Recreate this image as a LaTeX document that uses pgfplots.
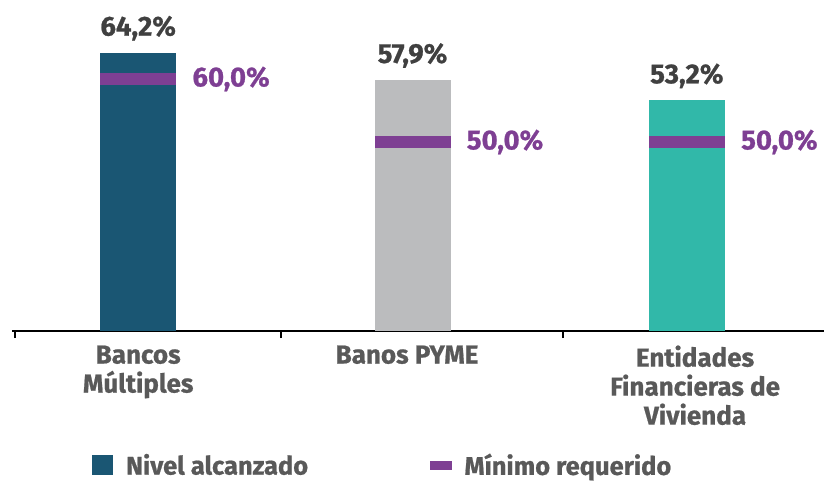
\documentclass[border=0pt]{standalone}
\usepackage{pgfplots}
\pgfplotsset{compat=1.18}
\usepackage{fontspec}
\setmainfont{Fira Sans}[FakeBold=0.8]

\definecolor{barA}{HTML}{1A5673}
\definecolor{barB}{HTML}{BBBCBE}
\definecolor{barC}{HTML}{31B8A9}
\definecolor{mpurple}{HTML}{7E3F93}
\definecolor{valgray}{HTML}{404040}
\definecolor{labgray}{HTML}{595959}

\begin{document}
\begin{tikzpicture}
\path[use as bounding box] (0,0) rectangle (824pt,482pt);

% bars: nivel alcanzado
\begin{axis}[
    at={(12pt,151pt)}, anchor=south west,
    width=812pt, height=303.5pt, scale only axis,
    xmin=-0.46, xmax=2.50, ymin=0, ymax=70,
    clip=false,
    axis x line*=bottom, axis y line=none,
    x axis line style={line width=2.5pt, black, -},
    xtick={-0.45,0.52,1.55}, xticklabels={},
    major tick length=7pt, tick align=outside,
    xtick style={line width=2pt, black},
    ytick=\empty,
    extra x ticks={0,0.98,2.03},
    extra x tick labels={Bancos\\Múltiples, Banos PYME, Entidades\\Financieras de\\Vivienda},
    extra x tick style={major tick length=0pt},
    xticklabel style={font=\fontsize{26}{29}\selectfont\bfseries, text=labgray, align=center, yshift=-11pt},
    ybar, bar width=76pt,
    nodes near coords={\pgfmathprintnumber{\pgfplotspointmeta}\%},
    every node near coord/.append style={font=\fontsize{27.5}{30}\selectfont\bfseries, text=valgray, anchor=base, yshift=17pt},
    /pgf/number format/fixed,
    /pgf/number format/fixed zerofill,
    /pgf/number format/precision=1,
    /pgf/number format/use comma,
    /pgf/number format/assume math mode=true,
    legend style={draw=none, fill=none, inner sep=0pt,
        at={(axis description cs:0.0985,-0.4415)}, anchor=west,
        font=\fontsize{25.5}{27}\selectfont\bfseries, text=labgray,
        /tikz/every odd column/.append style={column sep=11pt},
        /tikz/every even column/.append style={column sep=120pt}},
    legend columns=2,
    legend cell align=left,
]
\addplot[fill=barA, draw=none, bar shift=0pt,
    legend image code/.code={\fill[barA] (0pt,-10pt) rectangle (21pt,10pt);}]
    coordinates {(0,64.2)};
\addlegendentry{Nivel alcanzado}
\addlegendimage{legend image code/.code={\fill[mpurple] (0pt,-4pt) rectangle (21pt,4pt);}}
\addlegendentry{Mínimo requerido}
\addplot[fill=barB, draw=none, bar shift=0pt, forget plot] coordinates {(1,57.9)};
\addplot[fill=barC, draw=none, bar shift=0pt, forget plot] coordinates {(2,53.2)};
\end{axis}

% markers: minimo requerido
\begin{axis}[
    at={(12pt,151pt)}, anchor=south west,
    width=812pt, height=303.5pt, scale only axis,
    xmin=-0.46, xmax=2.50, ymin=20, ymax=68.17,
    hide axis, clip=false,
    /pgf/number format/fixed,
    /pgf/number format/fixed zerofill,
    /pgf/number format/precision=1,
    /pgf/number format/use comma,
    /pgf/number format/assume math mode=true,
]
\addplot[only marks, mark=-, mark size=38pt,
    mark options={line width=12pt, draw=mpurple},
    nodes near coords={\pgfmathprintnumber{\pgfplotspointmeta}\%},
    every node near coord/.append style={font=\fontsize{27.5}{30}\selectfont\bfseries, text=mpurple, anchor=west, xshift=45pt}]
    coordinates {(0,60) (1,50) (2,50)};
\end{axis}
\end{tikzpicture}
\end{document}
